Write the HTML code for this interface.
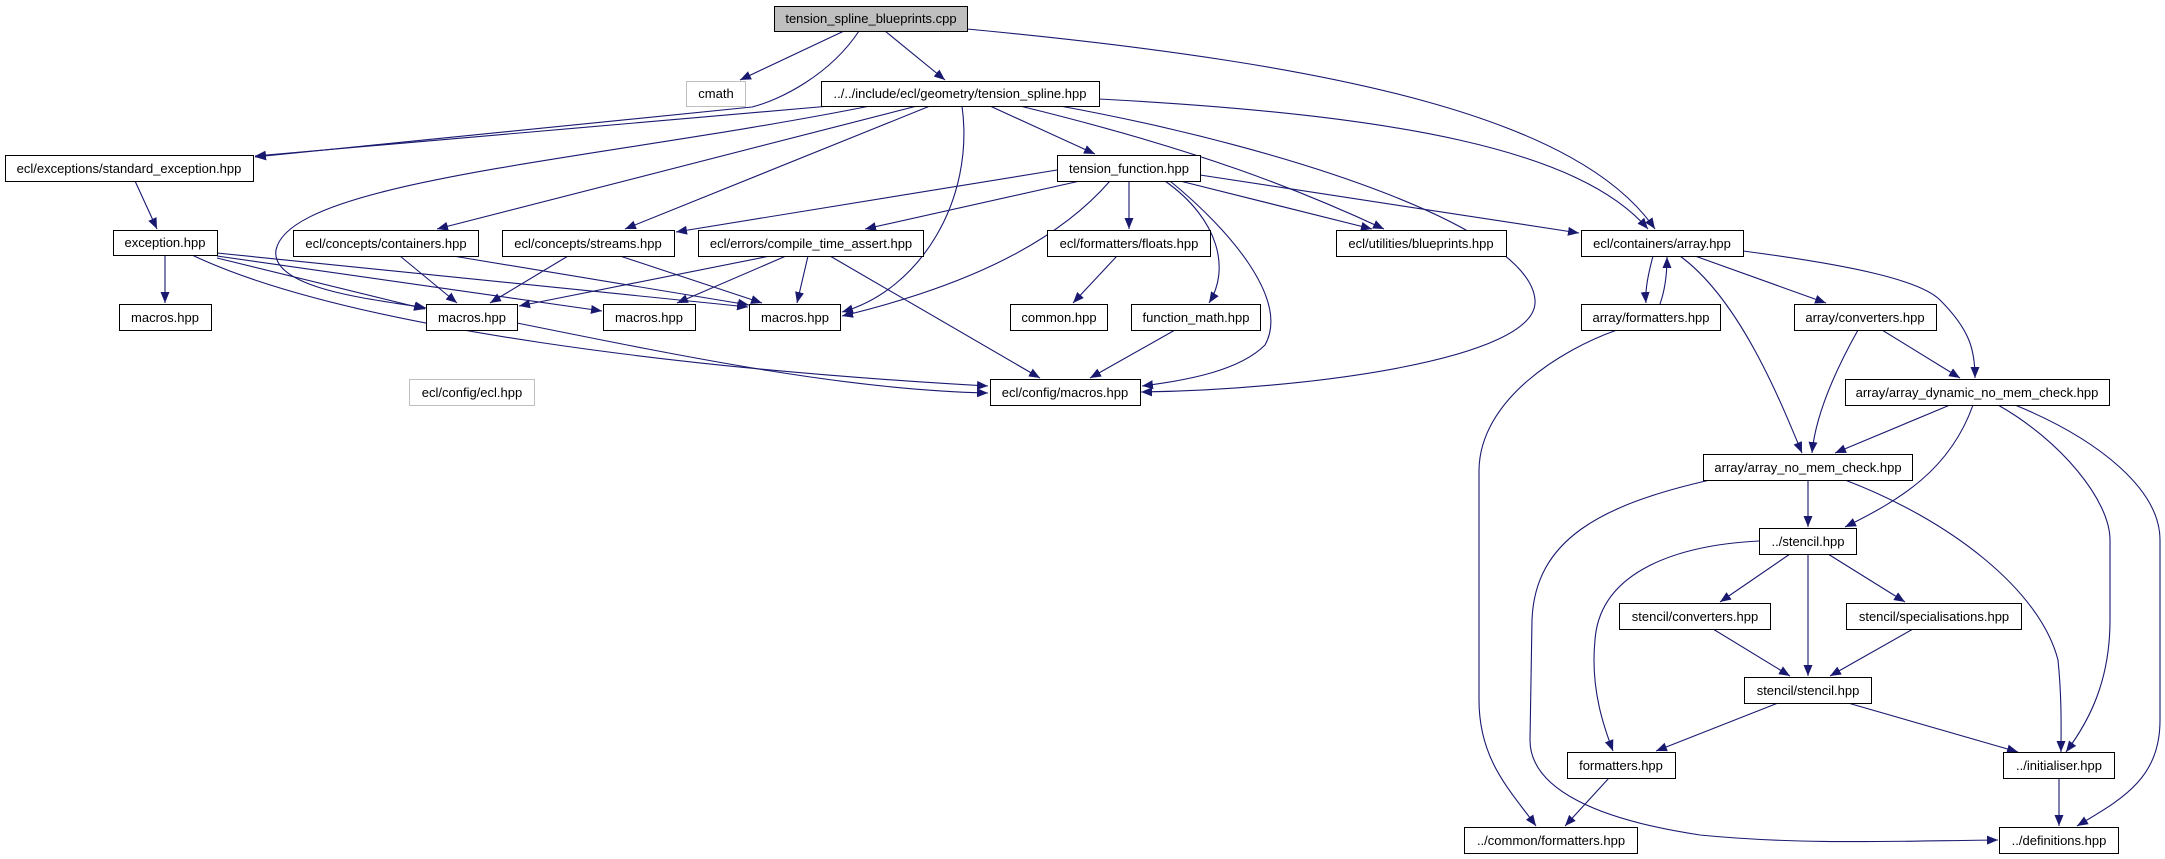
<!DOCTYPE html>
<html><head><meta charset="utf-8"><style>
html,body{margin:0;padding:0;background:#fff;}
svg{display:block;}
text{font-family:"Liberation Sans",sans-serif;font-size:13px;fill:#000;}
</style></head><body>
<svg width="2165" height="859" viewBox="0 0 2165 859" xmlns="http://www.w3.org/2000/svg">
<defs>
<marker id="a" markerUnits="userSpaceOnUse" markerWidth="12" markerHeight="10" refX="11" refY="5" orient="auto">
<path d="M0,0.5 L11,5 L0,9.5 z" fill="#191970"/>
</marker>
</defs>
<g fill="none" stroke="#191970" stroke-width="1.1" marker-end="url(#a)">
<path d="M844,31 L740,80"/>
<path d="M885,31 L945,80"/>
<path d="M859,31 C830,75 780,100 752,107 L255,157"/>
<path d="M967,29 C1350,65 1580,120 1655,229"/>
<path d="M830,106 L255,156"/>
<path d="M1099,99 C1400,115 1580,150 1648,229"/>
<path d="M917,106 L437,229"/>
<path d="M930,106 L625,229"/>
<path d="M870,106 C600,160 290,180 276,250 C270,290 380,300 426,308"/>
<path d="M962,106 C975,200 920,290 842,312"/>
<path d="M990,106 L1095,154"/>
<path d="M1020,106 C1200,150 1300,190 1384,229"/>
<path d="M1060,106 C1300,150 1530,230 1535,300 C1540,360 1300,390 1141,392"/>
<path d="M1057,170 L676,232"/>
<path d="M1080,181 L865,229"/>
<path d="M1110,181 C1050,250 950,290 842,316"/>
<path d="M1129,181 L1129,229"/>
<path d="M1165,181 C1220,220 1230,270 1209,303"/>
<path d="M1170,181 C1230,230 1290,300 1265,345 C1240,370 1190,380 1142,386"/>
<path d="M1180,181 L1372,229"/>
<path d="M1200,175 L1579,233"/>
<path d="M1117,256 L1073,303"/>
<path d="M1175,330 L1090,378"/>
<path d="M770,256 L519,306"/>
<path d="M786,256 L677,303"/>
<path d="M808,256 L797,303"/>
<path d="M830,256 L1040,378"/>
<path d="M568,256 L490,303"/>
<path d="M620,256 L762,303"/>
<path d="M400,256 L457,303"/>
<path d="M453,256 L749,305"/>
<path d="M165,255 L165,303"/>
<path d="M217,258 L425,309"/>
<path d="M217,256 L602,311"/>
<path d="M217,253 L748,307"/>
<path d="M192,255 C350,330 700,370 988,386"/>
<path d="M517,323 C700,360 850,390 988,393"/>
<path d="M135,181 L157,229"/>
<path d="M1653,256 C1648,275 1645,290 1646,303"/>
<path d="M1660,304 C1665,290 1667,275 1667,257"/>
<path d="M1680,256 C1740,300 1780,400 1802,453"/>
<path d="M1695,256 L1826,303"/>
<path d="M1743,251 C1850,265 1920,280 1940,300 C1970,330 1975,350 1975,378"/>
<path d="M1858,330 C1830,380 1815,420 1812,453"/>
<path d="M1882,330 L1960,378"/>
<path d="M1950,405 L1835,453"/>
<path d="M1973,405 C1950,470 1900,500 1845,527"/>
<path d="M1998,405 C2060,440 2110,500 2110,540 L2110,620 C2110,680 2090,720 2066,752"/>
<path d="M2015,405 C2100,440 2160,490 2160,540 L2160,720 C2160,780 2120,800 2077,826"/>
<path d="M1808,480 L1808,527"/>
<path d="M1710,480 C1600,505 1535,540 1532,620 L1530,740 C1530,790 1600,820 1700,835 C1800,845 1900,841 1998,840"/>
<path d="M1617,330 C1560,350 1480,400 1479,470 L1479,700 C1479,760 1510,790 1536,826"/>
<path d="M1845,480 C1950,520 2040,590 2058,660 C2062,700 2061,730 2061,752"/>
<path d="M1759,541 C1680,545 1600,570 1595,640 C1590,690 1605,730 1613,751"/>
<path d="M1790,554 L1720,602"/>
<path d="M1808,554 L1808,676"/>
<path d="M1828,554 L1905,602"/>
<path d="M1713,629 L1790,676"/>
<path d="M1913,629 L1830,676"/>
<path d="M1778,703 L1656,751"/>
<path d="M1848,703 L2018,752"/>
<path d="M1609,778 L1565,826"/>
<path d="M2059,778 L2059,826"/>
</g>
<g stroke="#000" stroke-width="1" fill="#fff">
<rect x="774.5" y="6.5" width="193" height="25" fill="#bfbfbf"/>
<rect x="686.5" y="81.5" width="59" height="25" stroke="#bfbfbf"/>
<rect x="821.5" y="81.5" width="278" height="25"/>
<rect x="5.5" y="155.5" width="248" height="26"/>
<rect x="113.5" y="230.5" width="104" height="25"/>
<rect x="293.5" y="230.5" width="185" height="26"/>
<rect x="502.5" y="230.5" width="172" height="26"/>
<rect x="698.5" y="230.5" width="225" height="26"/>
<rect x="1057.5" y="155.5" width="143" height="26"/>
<rect x="1047.5" y="230.5" width="163" height="26"/>
<rect x="1336.5" y="230.5" width="170" height="26"/>
<rect x="1581.5" y="230.5" width="162" height="26"/>
<rect x="119.5" y="304.5" width="92" height="26"/>
<rect x="426.5" y="304.5" width="91" height="26"/>
<rect x="603.5" y="304.5" width="92" height="26"/>
<rect x="749.5" y="304.5" width="91" height="26"/>
<rect x="1010.5" y="304.5" width="97" height="26"/>
<rect x="1131.5" y="304.5" width="129" height="26"/>
<rect x="409.5" y="379.5" width="125" height="26" stroke="#bfbfbf"/>
<rect x="990.5" y="379.5" width="150" height="26"/>
<rect x="1581.5" y="304.5" width="139" height="26"/>
<rect x="1794.5" y="304.5" width="142" height="26"/>
<rect x="1845.5" y="379.5" width="264" height="26"/>
<rect x="1703.5" y="454.5" width="209" height="26"/>
<rect x="1759.5" y="528.5" width="97" height="26"/>
<rect x="1619.5" y="603.5" width="151" height="26"/>
<rect x="1846.5" y="603.5" width="175" height="26"/>
<rect x="1744.5" y="677.5" width="127" height="26"/>
<rect x="1567.5" y="752.5" width="108" height="26"/>
<rect x="2003.5" y="752.5" width="111" height="26"/>
<rect x="1999.5" y="827.5" width="119" height="26"/>
<rect x="1464.5" y="827.5" width="173" height="26"/>
</g>
<g text-anchor="middle">
<text x="871" y="23">tension_spline_blueprints.cpp</text>
<text x="716" y="98">cmath</text>
<text x="960" y="98">../../include/ecl/geometry/tension_spline.hpp</text>
<text x="129" y="173">ecl/exceptions/standard_exception.hpp</text>
<text x="165" y="247">exception.hpp</text>
<text x="386" y="248">ecl/concepts/containers.hpp</text>
<text x="588" y="248">ecl/concepts/streams.hpp</text>
<text x="811" y="248">ecl/errors/compile_time_assert.hpp</text>
<text x="1129" y="173">tension_function.hpp</text>
<text x="1129" y="248">ecl/formatters/floats.hpp</text>
<text x="1421" y="248">ecl/utilities/blueprints.hpp</text>
<text x="1662" y="248">ecl/containers/array.hpp</text>
<text x="165" y="322">macros.hpp</text>
<text x="472" y="322">macros.hpp</text>
<text x="649" y="322">macros.hpp</text>
<text x="795" y="322">macros.hpp</text>
<text x="1059" y="322">common.hpp</text>
<text x="1196" y="322">function_math.hpp</text>
<text x="472" y="397">ecl/config/ecl.hpp</text>
<text x="1065" y="397">ecl/config/macros.hpp</text>
<text x="1651" y="322">array/formatters.hpp</text>
<text x="1865" y="322">array/converters.hpp</text>
<text x="1977" y="397">array/array_dynamic_no_mem_check.hpp</text>
<text x="1808" y="472">array/array_no_mem_check.hpp</text>
<text x="1808" y="546">../stencil.hpp</text>
<text x="1695" y="621">stencil/converters.hpp</text>
<text x="1934" y="621">stencil/specialisations.hpp</text>
<text x="1808" y="695">stencil/stencil.hpp</text>
<text x="1621" y="770">formatters.hpp</text>
<text x="2059" y="770">../initialiser.hpp</text>
<text x="2059" y="845">../definitions.hpp</text>
<text x="1551" y="845">../common/formatters.hpp</text>
</g>
</svg>
</body></html>
